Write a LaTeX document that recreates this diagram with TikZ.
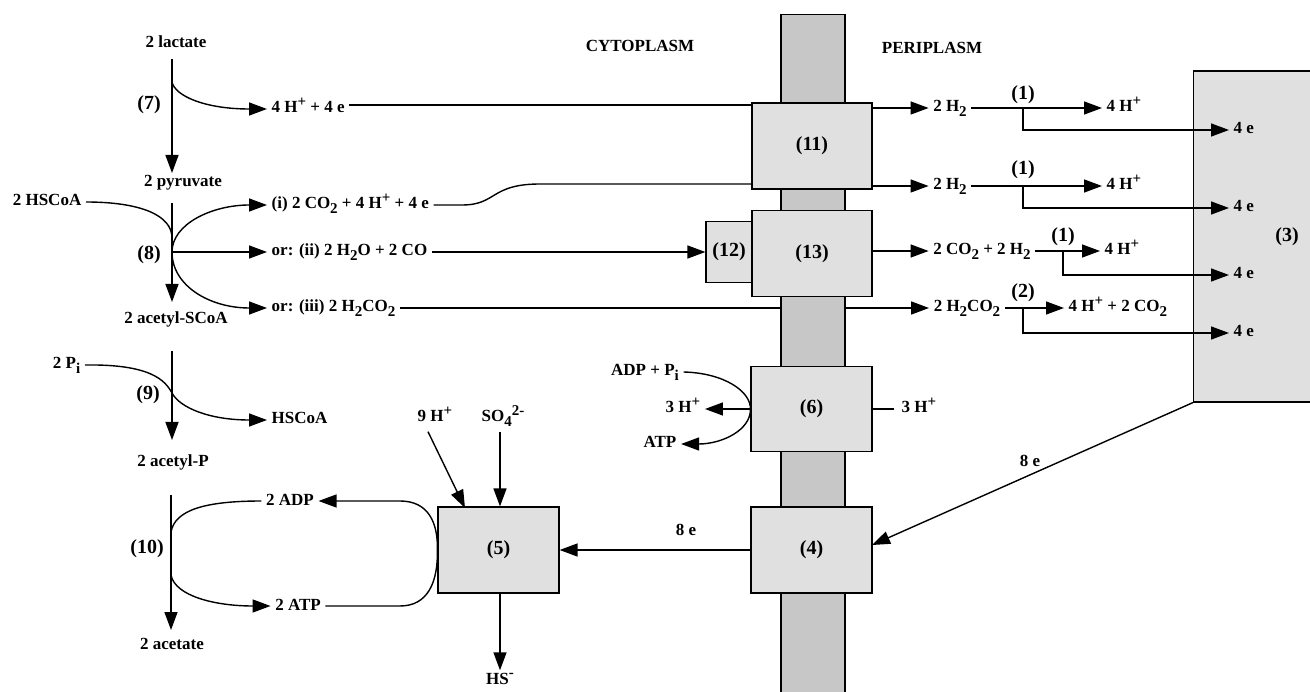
\documentclass[tikz,border=0pt]{standalone}
\usepackage{fontspec}
\setmainfont{Liberation Serif}
\usetikzlibrary{arrows.meta}
\definecolor{bargray}{gray}{0.78}
\definecolor{boxgray}{gray}{0.88}
\newcommand{\dn}[1]{\raisebox{-0.28em}{\fontsize{15}{15}\selectfont #1}}
\newcommand{\up}[1]{\raisebox{0.36em}{\fontsize{15}{15}\selectfont #1}}
\begin{document}
\begin{tikzpicture}[x=1pt,y=-1pt,line width=1.4pt,
  txt/.style={font=\fontsize{17}{18}\selectfont\bfseries, inner ysep=1pt, inner xsep=4pt, text height=12pt, text depth=4pt},
  num/.style={font=\fontsize{20}{20}\selectfont\bfseries, inner sep=1pt},
  box/.style={draw, fill=boxgray, line width=1.2pt, inner sep=0pt, font=\fontsize{20}{20}\selectfont\bfseries},
  arr/.style={-{Triangle[length=18pt,width=13pt]}}]
\useasboundingbox (0,0) rectangle (1310,692);

% helper coordinates
\coordinate (y105) at (0,105);
\coordinate (y184) at (0,184);
\coordinate (b5so) at (500,0);
\coordinate (k1) at (1023,108);
\coordinate (k2) at (1023,186);
\coordinate (k3) at (1063,251);
\coordinate (k4) at (1023,308);
\coordinate (t4) at (872,545);
\coordinate (t9) at (465,508);
\coordinate (v7a) at (172,59);
\coordinate (v7b) at (172,173);
\coordinate (j7) at (172,82);
\coordinate (v8a) at (172,203);
\coordinate (v8b) at (172,302);
\coordinate (j8) at (172,238);
\coordinate (m8) at (172,252);
\coordinate (v9a) at (172,351);
\coordinate (v9b) at (172,440);
\coordinate (j9) at (172,393);
\coordinate (v10a) at (171,495);
\coordinate (v10b) at (171,630);
\coordinate (v10c) at (171,532);
\coordinate (v10d) at (171,575);

% titles
\node[txt] (cyto) at (640,48) {CYTOPLASM};
\node[txt] (peri) at (932,50) {PERIPLASM};

% left chain
\node[txt] (lac) at (176,44) {2 lactate};
\node[txt] (pyr) at (183,183) {2 pyruvate};
\node[txt] (acs) at (176,320) {2 acetyl-SCoA};
\node[txt] (acp) at (173,463) {2 acetyl-P};
\node[txt] (ace) at (172,645) {2 acetate};
\node[num] (l7) at (149,105) {(7)};
\node[num] (l8) at (149,255) {(8)};
\node[num] (l9) at (148,395) {(9)};
\node[num] (l10) at (147,549) {(10)};

\node[txt,anchor=east] (hsc) at (86,202) {2 HSCoA};
\node[txt,anchor=east] (pi2) at (85,365) {2 P\dn{i}};
\node[txt,anchor=west] (t7) at (267,109) {4 H\up{+} + 4 e};
\node[txt,anchor=west] (ti) at (267,205) {(i) 2 CO\dn{2} + 4 H\up{+} + 4 e};
\node[txt,anchor=west] (tii) at (267,252) {or: (ii) 2 H\dn{2}O + 2 CO};
\node[txt,anchor=west] (tiii) at (267,308) {or: (iii) 2 H\dn{2}CO\dn{2}};
\node[txt,anchor=west] (hsc2) at (267,420) {HSCoA};
\node[txt] (adp) at (290,501) {2 ADP};
\node[txt] (atp) at (298,606) {2 ATP};

\draw[arr] (v7a) -- (v7b);
\draw[arr] (j7) .. controls (175,96) and (205,109) .. (t7.west);
\draw[arr] (v8a) -- (v8b);
\draw (hsc.east) .. controls (140,202) and (172,215) .. (j8);
\draw[arr] (m8) .. controls (172,224) and (212,205) .. (ti.west);
\draw[arr] (m8) -- (tii.west);
\draw[arr] (m8) .. controls (172,286) and (210,308) .. (tiii.west);
\draw[arr] (v9a) -- (v9b);
\draw (pi2.east) .. controls (150,364) and (165,380) .. (j9);
\draw[arr] (j9) .. controls (180,408) and (210,420) .. (hsc2.west);
\draw[arr] (v10a) -- (v10b);
\draw (v10c) .. controls (175,510) and (205,501) .. (adp.west);
\draw[arr] (v10d) .. controls (175,596) and (215,606) .. (atp.west);

% product of (iii), line passes behind the membrane
\node[txt] (h2co2) at (967,308) {2 H\dn{2}CO\dn{2}};
\draw[arr] (tiii.east) -- (h2co2.west);

% membrane
\node[draw, fill=bargray, line width=1.2pt, minimum width=64pt, minimum height=700pt, anchor=north, inner sep=0pt] (mem) at (813,14) {};

% boxes
\node[box, minimum width=120pt, minimum height=86pt] (b11) at (812,146) {(11)};
\node[box, minimum width=46pt, minimum height=61pt] (b12) at (729,252) {(12)};
\node[box, minimum width=120pt, minimum height=86pt] (b13) at (812,253.5) {(13)};
\node[box, minimum width=121pt, minimum height=85pt] (b6) at (811.5,409) {(6)};
\node[box, minimum width=121pt, minimum height=86pt] (b4) at (811.5,550) {(4)};
\node[box, minimum width=121pt, minimum height=86pt] (b5) at (498.5,550) {(5)};
\node[box, minimum width=125pt, minimum height=331pt] (b3) at (1256,236.5) {};
\node[num] (l3) at (1287,237) {(3)};

% connectors to membrane boxes
\draw (t7.east |- y105) -- (b11.west |- y105);
\draw (ti.east) -- (462,205) .. controls (497,205) and (490,184) .. (540,184) -- (b11.west |- y184);
\draw[arr] (tii.east) -- (b12.west);

% row 1
\node[txt] (h2a) at (950,108) {2 H\dn{2}};
\node[txt,anchor=west] (hpa) at (1102,108) {4 H\up{+}};
\node[num] (p1a) at (1023,95) {(1)};
\node[txt,anchor=west] (ea) at (1229,130) {4 e};
\draw[arr] (h2a.west -| b11.east) -- (h2a.west);
\draw[arr] (h2a.east) -- (hpa.west);
\draw[arr] (k1) |- (ea.west);

% row 2
\node[txt] (h2b) at (950,186) {2 H\dn{2}};
\node[txt,anchor=west] (hpb) at (1102,186) {4 H\up{+}};
\node[num] (p1b) at (1023,170) {(1)};
\node[txt,anchor=west] (eb) at (1229,208) {4 e};
\draw[arr] (h2b.west -| b11.east) -- (h2b.west);
\draw[arr] (h2b.east) -- (hpb.west);
\draw[arr] (k2) |- (eb.west);

% row 3
\node[txt] (co2h2) at (982,251) {2 CO\dn{2} + 2 H\dn{2}};
\node[txt,anchor=west] (hpc) at (1100,251) {4 H\up{+}};
\node[num] (p1c) at (1063,237) {(1)};
\node[txt,anchor=west] (ec) at (1229,275) {4 e};
\draw[arr] (co2h2.west -| b13.east) -- (co2h2.west);
\draw[arr] (co2h2.east) -- (hpc.west);
\draw[arr] (k3) |- (ec.west);

% row 4
\node[txt,anchor=west] (hpd) at (1064,308) {4 H\up{+} + 2 CO\dn{2}};
\node[num] (p2) at (1023,293) {(2)};
\node[txt,anchor=west] (ed) at (1229,333) {4 e};
\draw[arr] (h2co2.east) -- (hpd.west);
\draw[arr] (k4) |- (ed.west);

% ATP synthase (6)
\node[txt] (adppi) at (645,372) {ADP + P\dn{i}};
\node[txt] (h3l) at (683,409) {3 H\up{+}};
\node[txt] (atp6) at (660,444) {ATP};
\node[txt] (h3r) at (919,409) {3 H\up{+}};
\draw (adppi.east) .. controls (725,373) and (751,392) .. (b6.west);
\draw[arr] (b6.west) -- (h3l.east);
\draw[arr] (b6.west) .. controls (751,430) and (722,444) .. (atp6.east);
\draw[shorten >=3pt] (b6.east) -- (h3r.west);

% sulfate reduction (5)
\node[txt] (h9) at (435,418) {9 H\up{+}};
\node[txt] (so4) at (503,418) {SO\dn{4}\up{2-}};
\node[txt] (hs) at (500,680) {HS\up{-}};
\draw[arr] ([shift={(-7,4)}]h9.south) -- (t9);
\draw[arr, shorten <=4pt] (so4.south -| b5so) -- (b5.north -| b5so);
\draw[arr] (b5.south -| b5so) -- (hs.north -| b5so);
\draw[arr] (b5.west) .. controls (438,522) and (428,501) .. (400,501) -- (adp.east);
\draw (b5.west) .. controls (438,582) and (428,606) .. (400,606) -- (atp.east);

% electrons
\node[txt] (l8e) at (686,531) {8 e};
\node[txt] (l8e2) at (1030,463) {8 e};
\draw[arr] (b4.west) -- (b5.east);
\draw[arr] (b3.south west) -- (t4);
\end{tikzpicture}
\end{document}
